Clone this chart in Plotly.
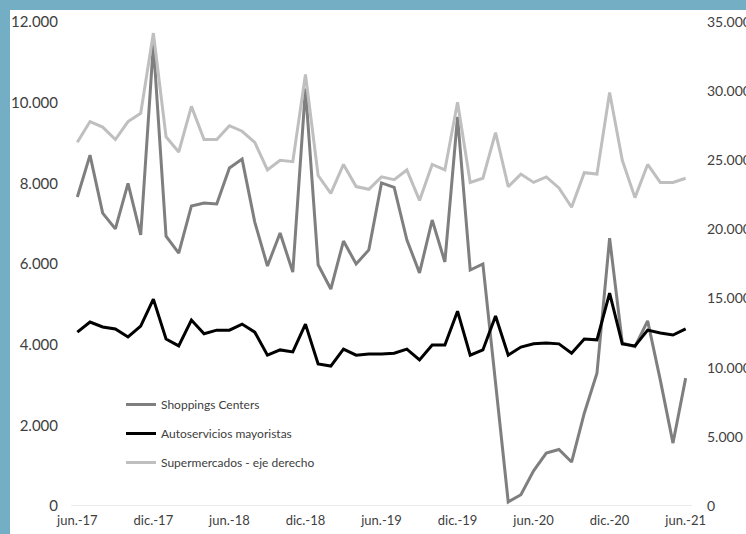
import plotly.graph_objects as go

months = ["jun.-17","jul.-17","ago.-17","sep.-17","oct.-17","nov.-17","dic.-17",
          "ene.-18","feb.-18","mar.-18","abr.-18","may.-18","jun.-18","jul.-18","ago.-18","sep.-18","oct.-18","nov.-18","dic.-18",
          "ene.-19","feb.-19","mar.-19","abr.-19","may.-19","jun.-19","jul.-19","ago.-19","sep.-19","oct.-19","nov.-19","dic.-19",
          "ene.-20","feb.-20","mar.-20","abr.-20","may.-20","jun.-20","jul.-20","ago.-20","sep.-20","oct.-20","nov.-20","dic.-20",
          "ene.-21","feb.-21","mar.-21","abr.-21","may.-21","jun.-21"]

shoppings = [7660, 8700, 7260, 6870, 8000, 6720, 11450,
             6690, 6270, 7440, 7510, 7490, 8380, 8600, 7040, 5950, 6770, 5800, 10350,
             5980, 5380, 6570, 6000, 6350, 8010, 7900, 6600, 5780, 7090, 6050, 9650,
             5850, 6000, 3050, 100, 280, 870, 1310, 1400, 1090, 2300, 3290, 6640,
             4040, 3950, 4590, 3120, 1560, 3170]

autoservicios = [4310, 4560, 4440, 4390, 4190, 4460, 5130,
                 4140, 3970, 4610, 4270, 4360, 4360, 4510, 4310, 3740, 3870, 3820, 4510,
                 3520, 3470, 3890, 3740, 3770, 3770, 3790, 3890, 3620, 3990, 3990, 4830,
                 3740, 3870, 4710, 3740, 3940, 4020, 4040, 4020, 3790, 4140, 4120, 5280,
                 4020, 3970, 4360, 4290, 4240, 4390]

supermercados = [26300, 27800, 27400, 26500, 27800, 28400, 34200,
                 26700, 25600, 28900, 26500, 26500, 27500, 27100, 26300, 24300, 25000, 24900, 31200,
                 23900, 22600, 24700, 23100, 22900, 23800, 23600, 24300, 22100, 24700, 24300, 29200,
                 23400, 23700, 27000, 23100, 24000, 23400, 23800, 23000, 21600, 24100, 24000, 29900,
                 25000, 22300, 24700, 23400, 23400, 23700]

tick_idx = list(range(0, 49, 6))
tick_text = [months[i] for i in tick_idx]
left_ticks = [0, 2000, 4000, 6000, 8000, 10000, 12000]
left_text = ["0", "2.000", "4.000", "6.000", "8.000", "10.000", "12.000"]
right_ticks = [0, 5000, 10000, 15000, 20000, 25000, 30000, 35000]
right_text = ["0", "5.000", "10.000", "15.000", "20.000", "25.000", "30.000", "35.000"]

x = list(range(len(months)))
FONT = "Lato"
TXT = "#404040"

fig = go.Figure()
fig.add_trace(go.Scatter(x=x, y=shoppings, name="Shoppings Centers", mode="lines",
                         line=dict(color="#7f7f7f", width=3), legendgroup="a"))
fig.add_trace(go.Scatter(x=x, y=autoservicios, name="Autoservicios mayoristas", mode="lines",
                         line=dict(color="#000000", width=3), legendgroup="b"))
fig.add_trace(go.Scatter(x=x, y=supermercados, name="Supermercados - eje derecho", mode="lines",
                         line=dict(color="#bfbfbf", width=3), legendgroup="c", yaxis="y2"))

L, R, T, B = 71, 54, 22, 28
W, H = 746, 534
pw = W - L - R
ph = H - T - B

shapes = [
    dict(type="rect", xref="paper", yref="paper", x0=-L / pw, x1=-(L - 10) / pw, y0=-B / ph, y1=(ph + T) / ph,
         fillcolor="#74aec4", line=dict(width=0), layer="below"),
    dict(type="rect", xref="paper", yref="paper", x0=-L / pw, x1=(pw + R) / pw, y0=(ph + T - 10) / ph, y1=(ph + T) / ph,
         fillcolor="#74aec4", line=dict(width=0), layer="below"),
]

fig.update_layout(
    width=W, height=H,
    margin=dict(l=L, r=R, t=T, b=B, autoexpand=False),
    paper_bgcolor="white", plot_bgcolor="white",
    font=dict(family=FONT, size=13, color=TXT),
    showlegend=True,
    legend=dict(x=(121 - L) / pw, y=(506 - 390) / ph, xanchor="left", yanchor="top",
                bgcolor="rgba(0,0,0,0)", font=dict(family=FONT, size=12, color=TXT),
                traceorder="grouped", tracegroupgap=10, itemwidth=30),
    xaxis=dict(range=[-0.5, 48.5], tickvals=tick_idx, ticktext=tick_text, showgrid=False,
               zeroline=False, showline=False, ticks="", ticklabelstandoff=5, automargin=False,
               tickfont=dict(family=FONT, size=13, color=TXT)),
    yaxis=dict(range=[0, 12000], tickvals=left_ticks, ticktext=left_text, showgrid=False,
               zeroline=False, showline=False, ticks="", ticklabelstandoff=12, automargin=False,
               tickfont=dict(family=FONT, size=15, color=TXT)),
    yaxis2=dict(range=[0, 35000], tickvals=right_ticks, ticktext=right_text, overlaying="y", side="right",
                showgrid=False, zeroline=False, showline=False, ticks="", ticklabelstandoff=14, automargin=False,
                tickfont=dict(family=FONT, size=14, color=TXT)),
    shapes=shapes + [dict(type="line", xref="paper", yref="y", x0=0, x1=1, y0=0, y1=0,
                          line=dict(color="#d9d9d9", width=1), layer="below")],
)

fig.write_html("out.html")
